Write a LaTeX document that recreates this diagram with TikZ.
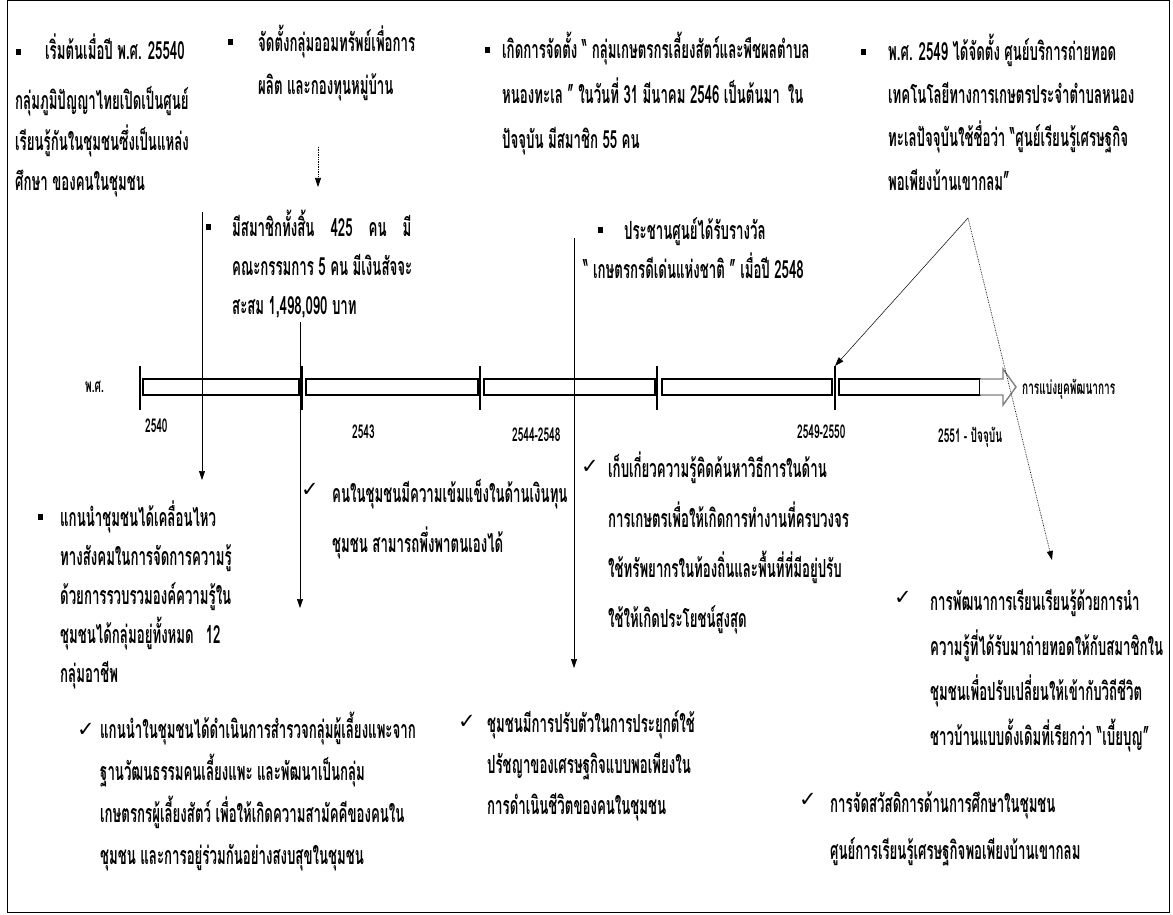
\documentclass[tikz,border=0pt]{standalone}
\usepackage{fontspec}
\usetikzlibrary{arrows.meta}
\newfontfamily\thai[Script=Thai,FakeStretch=0.53]{Loma}
\newfontfamily\symfont{DejaVu Sans}

\tikzset{
  line/.style={anchor=base west, inner sep=0pt, font={\thai\bfseries\fontsize{25pt}{28pt}\selectfont}},
  year/.style={anchor=base west, inner sep=0pt, font={\thai\bfseries\fontsize{19pt}{22pt}\selectfont}},
  bul/.style={fill=black, inner sep=0pt, minimum width=5pt, minimum height=6pt},
  chk/.style={inner sep=0pt, font={\symfont\fontsize{21pt}{21pt}\selectfont}},
  bar/.style={draw, line width=1.6pt},
  tick/.style={line width=2.2pt},
  conn/.style={line width=0.5pt, -{Triangle[length=9pt,width=6pt]}},
  dotconn/.style={conn, line width=0.7pt, densely dotted}
}

\begin{document}
\begin{tikzpicture}[x=1pt, y=-1pt]
  \useasboundingbox (0,0) rectangle (1173,915);
  \draw[line width=0.6pt] (7,0) rectangle (1169,912);

  % top row
  \node[bul] (b-orig) at (18,52) {};
  \node[line] (orig-0) at (45,60) {เริ่มต้นเมื่อปี พ.ศ. 25540};
  \foreach \t [count=\i] in {กลุ่มภูมิปัญญาไทยเปิดเป็นศูนย์, เรียนรู้กันในชุมชนซึ่งเป็นแหล่ง, ศึกษา ของคนในชุมชน}
    \node[line] (orig-\i) at (15,{110+(\i-1)*40}) {\t};

  \node[bul] (b-save) at (230,42) {};
  \foreach \t [count=\i] in {จัดตั้งกลุ่มออมทรัพย์เพื่อการ, ผลิต และกองทุนหมู่บ้าน}
    \node[line] (save-\i) at (258,{52+(\i-1)*43}) {\t};

  \node[bul] (b-group) at (487,50) {};
  \foreach \t [count=\i] in {เกิดการจัดตั้ง “ กลุ่มเกษตรกรเลี้ยงสัตว์และพืชผลตำบล, หนองทะเล ” ในวันที่ 31 มีนาคม 2546 เป็นต้นมา\hspace{8pt}ใน, ปัจจุบัน มีสมาชิก 55 คน}
    \node[line] (group-\i) at (502,{59+(\i-1)*45}) {\t};

  \node[bul] (b-centre) at (863,52) {};
  \foreach \t [count=\i] in {พ.ศ. 2549 ได้จัดตั้ง ศูนย์บริการถ่ายทอด, เทคโนโลยีทางการเกษตรประจำตำบลหนอง, ทะเลปัจจุบันใช้ชื่อว่า “ศูนย์เรียนรู้เศรษฐกิจ, พอเพียงบ้านเขากลม”}
    \node[line] (centre-\i) at (888,{61+(\i-1)*43}) {\t};

  % second row
  \node[bul] (b-memb) at (208,227) {};
  \node[line] (memb-1) at (232,236) {มีสมาชิกทั้งสิ้น\hspace{16pt}425\hspace{16pt}คน\hspace{16pt}มี};
  \foreach \t [count=\i from 2] in {คณะกรรมการ 5 คน มีเงินสัจจะ, {สะสม 1,498,090 บาท}}
    \node[line] (memb-\i) at (232,{236+(\i-1)*39}) {\t};

  \node[bul] (b-award) at (600,230) {};
  \node[line] (award-1) at (624,239) {ประชานศูนย์ได้รับรางวัล};
  \node[line] (award-2) at (583,278) {“ เกษตรกรดีเด่นแห่งชาติ ” เมื่อปี 2548};

  % timeline
  \node[year] (era) at (85,392) {พ.ศ.};
  \foreach \a/\b in {143/299, 306/478, 484/655, 662/832, 839/980}
    \draw[bar] (\a,379) rectangle (\b,395);
  \foreach \x [count=\i] in {140,302,480,657,835} {
    \draw[tick] (\x,366) -- (\x,410);
    \coordinate (tick-\i) at (\x,366);
  }
  \draw[gray, line width=1.4pt, fill=white] (980,379) -- (1003,379) -- (1003,369) -- (1016,387)
    -- (1003,405) -- (1003,395) -- (980,395);
  \node[year] (era-lbl) at (1022,394) {การแบ่งยุคพัฒนาการ};
  \node[year] (y-1) at (145,432) {2540};
  \node[year] (y-2) at (352,438) {2543};
  \node[year] (y-3) at (512,441) {2544-2548};
  \node[year] (y-4) at (797,438) {2549-2550};
  \node[year] (y-5) at (938,442) {2551 - ปัจจุบัน};

  % lower blocks
  \node[bul] (b-lead) at (40,517) {};
  \foreach \t [count=\i] in {แกนนำชุมชนได้เคลื่อนไหว, ทางสังคมในการจัดการความรู้, ด้วยการรวบรวมองค์ความรู้ใน, ชุมชนได้กลุ่มอยู่ทั้งหมด\hspace{12pt}12, กลุ่มอาชีพ}
    \node[line] (lead-\i) at (60,{526+(\i-1)*39}) {\t};

  \node[chk] (c-fund) at (310,490) {✓};
  \foreach \t [count=\i] in {คนในชุมชนมีความเข้มแข็งในด้านเงินทุน, ชุมชน สามารถพึ่งพาตนเองได้}
    \node[line] (fund-\i) at (332,{502+(\i-1)*50}) {\t};

  \node[chk] (c-know) at (590,467) {✓};
  \foreach \t [count=\i] in {เก็บเกี่ยวความรู้คิดค้นหาวิธีการในด้าน, การเกษตรเพื่อให้เกิดการทำงานที่ครบวงจร, ใช้ทรัพยากรในท้องถิ่นและพื้นที่ที่มีอยู่ปรับ, ใช้ให้เกิดประโยชน์สูงสุด}
    \node[line] (know-\i) at (608,{477+(\i-1)*50}) {\t};

  \node[chk] (c-goat) at (86,730) {✓};
  \foreach \t [count=\i] in {แกนนำในชุมชนได้ดำเนินการสำรวจกลุ่มผู้เลี้ยงแพะจาก, ฐานวัฒนธรรมคนเลี้ยงแพะ และพัฒนาเป็นกลุ่ม, เกษตรกรผู้เลี้ยงสัตว์ เพื่อให้เกิดความสามัคคีของคนใน, ชุมชน และการอยู่ร่วมกันอย่างสงบสุขในชุมชน}
    \node[line] (goat-\i) at (100,{738+(\i-1)*42}) {\t};

  \node[chk] (c-adapt) at (467,722) {✓};
  \foreach \t [count=\i] in {ชุมชนมีการปรับตัวในการประยุกต์ใช้, ปรัชญาของเศรษฐกิจแบบพอเพียงใน, การดำเนินชีวิตของคนในชุมชน}
    \node[line] (adapt-\i) at (487,{732+(\i-1)*41}) {\t};

  \node[chk] (c-learn) at (903,598) {✓};
  \foreach \t [count=\i] in {การพัฒนาการเรียนเรียนรู้ด้วยการนำ, ความรู้ที่ได้รับมาถ่ายทอดให้กับสมาชิกใน, ชุมชนเพื่อปรับเปลี่ยนให้เข้ากับวิถีชีวิต, ชาวบ้านแบบดั้งเดิมที่เรียกว่า “เบี้ยบุญ”}
    \node[line] (learn-\i) at (930,{610+(\i-1)*45}) {\t};

  \node[chk] (c-welf) at (808,800) {✓};
  \foreach \t [count=\i] in {การจัดสวัสดิการด้านการศึกษาในชุมชน, ศูนย์การเรียนรู้เศรษฐกิจพอเพียงบ้านเขากลม}
    \node[line] (welf-\i) at (830,{812+(\i-1)*47}) {\t};

  % connectors
  \coordinate (save-out) at (318,147);
  \coordinate (memb-in) at (318,187);
  \coordinate (memb-l) at (202,212);
  \coordinate (lead-in) at (202,480);
  \coordinate (memb-b) at (300,322);
  \coordinate (fund-in) at (300,608);
  \coordinate (award-l) at (574,238);
  \coordinate (adapt-in) at (574,668);
  \coordinate (centre-out) at (968,218);
  \coordinate (learn-in) at (1052,560);
  \draw[dotconn] (save-out) -- (memb-in);
  \draw[conn] (memb-l) -- (lead-in);
  \draw[conn] (memb-b) -- (fund-in);
  \draw[conn] (award-l) -- (adapt-in);
  \draw[conn] (centre-out) -- (tick-5);
  \draw[dotconn] (centre-out) -- (learn-in);
\end{tikzpicture}
\end{document}
